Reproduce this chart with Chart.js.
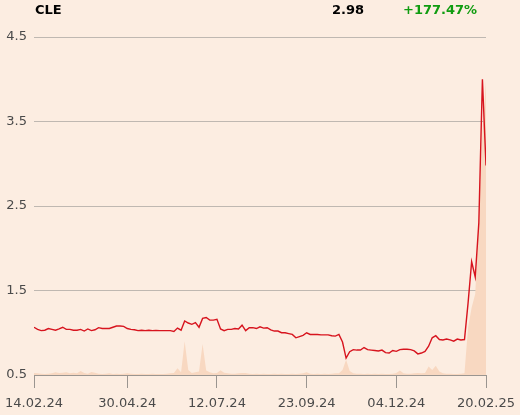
<!DOCTYPE html>
<html>
<head>
<meta charset="utf-8">
<script src="https://cdn.jsdelivr.net/npm/chart.js@4/dist/chart.umd.min.js"></script>
<style>
  html, body { margin: 0; padding: 0; background: #fcede1; }
  #wrap { position: relative; width: 520px; height: 415px; }
  canvas { position: absolute; left: 0; top: 0; }
  .hdr { position: absolute; top: 0; height: 20px; line-height: 20px; font-family: "DejaVu Sans", sans-serif; font-weight: bold; font-size: 13px; white-space: nowrap; }
</style>
</head>
<body>
<div id="wrap">
  <canvas id="c" width="520" height="415"></canvas>
  <div class="hdr" style="left:35px;color:#000;">CLE</div>
  <div class="hdr" style="right:156px;color:#000;">2.98</div>
  <div class="hdr" style="left:403px;color:#109c10;">+177.47%</div>
</div>
<script>
// Closing prices (sampled every 2nd trading day)
const price = [
  1.065,1.04,1.025,1.03,1.05,1.04,1.03,1.045,1.065,1.04,
  1.04,1.03,1.03,1.04,1.02,1.045,1.025,1.035,1.06,1.05,
  1.05,1.05,1.065,1.08,1.08,1.075,1.05,1.04,1.035,1.025,
  1.03,1.025,1.03,1.025,1.028,1.025,1.025,1.025,1.025,1.015,
  1.055,1.03,1.14,1.115,1.10,1.12,1.065,1.17,1.18,1.15,
  1.15,1.16,1.045,1.025,1.04,1.04,1.05,1.045,1.09,1.025,
  1.06,1.06,1.05,1.07,1.055,1.06,1.035,1.02,1.02,1.0,
  1.0,0.99,0.98,0.94,0.955,0.97,1.0,0.98,0.98,0.98,
  0.975,0.975,0.975,0.965,0.96,0.98,0.89,0.70,0.775,0.80,
  0.795,0.795,0.825,0.80,0.795,0.79,0.785,0.795,0.765,0.76,
  0.79,0.78,0.80,0.805,0.805,0.80,0.785,0.75,0.76,0.78,
  0.84,0.94,0.965,0.92,0.915,0.925,0.915,0.90,0.925,0.915,
  0.92,1.35,1.84,1.66,2.3,4.0,2.98
];
// Trading volume (relative units)
const volume = [
  0.6,0.5,0.4,0.3,0.4,0.5,0.8,0.6,0.7,0.8,
  0.5,0.7,0.5,1.2,0.6,0.4,0.9,0.7,0.4,0.3,
  0.4,0.5,0.3,0.4,0.3,0.4,0.5,0.4,0.3,0.3,
  0.4,0.3,0.3,0.4,0.3,0.3,0.3,0.4,0.5,0.6,
  2.0,0.8,10.0,1.5,0.6,0.8,1.0,9.2,1.3,0.8,
  0.5,0.6,1.4,0.7,0.5,0.4,0.4,0.5,0.6,0.6,
  0.4,0.3,0.4,0.3,0.4,0.3,0.3,0.4,0.3,0.4,
  0.3,0.3,0.4,0.3,0.4,0.5,0.8,0.4,0.3,0.4,
  0.3,0.4,0.3,0.4,0.5,0.5,1.5,4.5,1.2,0.5,
  0.4,0.4,0.3,0.4,0.3,0.4,0.3,0.4,0.3,0.3,
  0.4,0.6,1.3,0.5,0.4,0.4,0.5,0.6,0.5,0.6,
  2.5,1.5,2.7,1.0,0.5,0.4,0.4,0.3,0.3,0.4,
  0.5,14,20,24,47,72,87
];
// X tick labels and the sample index they sit at
const xTickLabels = ["14.02.24","30.04.24","12.07.24","23.09.24","04.12.24","20.02.25"];
const xTickIndex  = [0, 26, 51, 76, 101, 126];
// Y tick values
const yTicks = [0.5, 1.5, 2.5, 3.5, 4.5];

const priceData = price.map((v, i) => ({x: i, y: v}));
const volData = volume.map((v, i) => ({x: i, y: v}));

new Chart(document.getElementById('c'), {
  type: 'line',
  data: {
    datasets: [
      {
        data: priceData,
        yAxisID: 'y',
        borderColor: '#d7141e',
        borderWidth: 1.4,
        pointRadius: 0,
        tension: 0,
        fill: false,
        order: 0
      },
      {
        data: volData,
        yAxisID: 'y2',
        borderWidth: 0,
        borderColor: 'rgba(0,0,0,0)',
        backgroundColor: '#f8d8c1',
        pointRadius: 0,
        tension: 0,
        fill: 'origin',
        order: 1
      }
    ]
  },
  options: {
    responsive: false,
    animation: false,
    layout: { padding: { top: 37, right: 34, left: 0, bottom: 0 } },
    plugins: { legend: { display: false }, tooltip: { enabled: false } },
    scales: {
      x: {
        type: 'linear',
        min: 0,
        max: price.length - 1,
        offset: false,
        afterBuildTicks: s => { s.ticks = xTickIndex.map(v => ({value: v})); },
        afterFit: s => { s.height = 40; s.paddingLeft = 0; s.paddingRight = 0; },
        ticks: {
          autoSkip: false,
          maxRotation: 0,
          padding: 8,
          color: '#4a4a4a',
          font: { family: 'DejaVu Sans', size: 13 },
          callback: (v) => { const k = xTickIndex.indexOf(v); return k >= 0 ? xTickLabels[k] : ''; }
        },
        grid: { drawOnChartArea: false, drawTicks: true, tickLength: 13, color: '#9a9590', lineWidth: 1 },
        border: { display: true, color: '#9a9590', width: 1 }
      },
      y: {
        min: 0.5,
        max: 4.5,
        afterBuildTicks: s => { s.ticks = yTicks.map(v => ({value: v})); },
        afterFit: s => { s.width = 34; s.paddingTop = 0; s.paddingBottom = 0; },
        ticks: {
          padding: 7,
          color: '#4a4a4a',
          font: { family: 'DejaVu Sans', size: 13 },
          callback: v => v.toFixed(1)
        },
        grid: { drawTicks: false, color: '#bfb8b1', lineWidth: 1 },
        border: { display: false }
      },
      y2: {
        display: false,
        min: 0,
        max: 100
      }
    }
  }
});
</script>
</body>
</html>
